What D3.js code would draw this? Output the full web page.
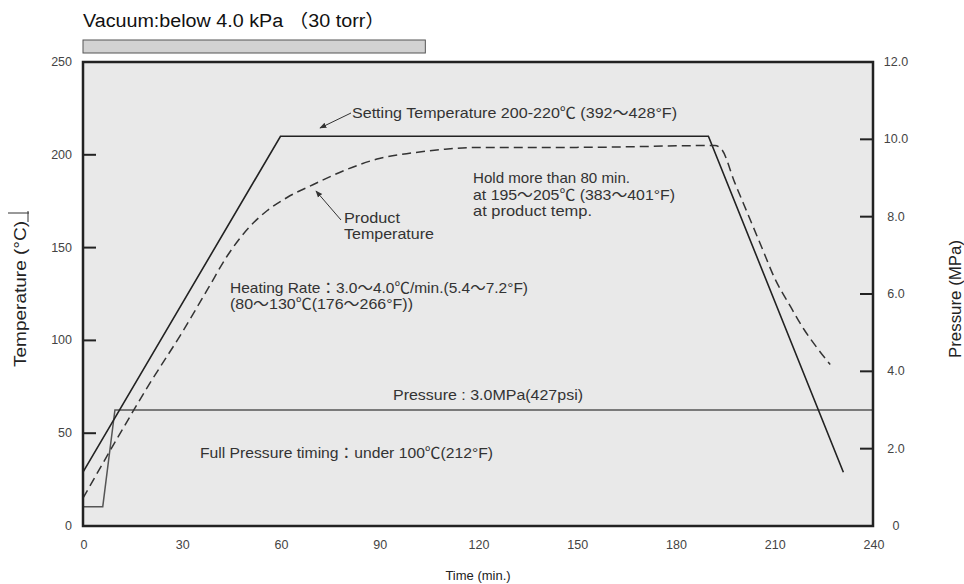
<!DOCTYPE html>
<html>
<head>
<meta charset="utf-8">
<script src="https://cdn.jsdelivr.net/npm/d3@7"></script>
<style>
  body { margin: 0; background: #fff; }
  text { font-family: "Liberation Sans", Arial, "Noto Sans CJK KR", sans-serif; }
</style>
</head>
<body>
<div id="chart"></div>
<script>
// curing cycle data (time in min)
const setTime = [0, 60, 190, 231];
const setTemp = [29, 210, 210, 29];

const productTime = [0, 10, 20, 30, 38, 44, 50, 56, 62, 70, 80, 90, 100, 110, 120, 150, 192, 194, 198, 202, 206, 210, 215, 219, 223, 227];
const productTemp = [15, 46, 76, 104, 128, 146, 160, 170, 177, 184, 192, 198, 201, 203, 204, 204, 205, 203, 185, 168, 151, 134, 118, 106, 96, 87];

const pressureTime = [0, 6, 9.7, 240];
const pressureValue = [0.5, 0.5, 3.0, 3.0];

const vacuumRange = [0, 104];

const timeTicks = [0, 30, 60, 90, 120, 150, 180, 210, 240];
const tempTicks = [0, 50, 100, 150, 200, 250];
const pressureTicks = [0, 2, 4, 6, 8, 10, 12];
const pressureTickLabels = ['0', '2.0', '4.0', '6.0', '8.0', '10.0', '12.0'];

const width = 964, height = 584;
const plotL = 83, plotR = 873, plotT = 62, plotB = 526;

const svg = d3.select('#chart').append('svg')
    .attr('width', width)
    .attr('height', height);

const x = d3.scaleLinear().domain([0, 240]).range([plotL, plotR]);
const yT = d3.scaleLinear().domain([0, 250]).range([plotB, plotT]);
const yP = d3.scaleLinear().domain([0, 12]).range([plotB, plotT]);

// vacuum bar
svg.append('text')
    .attr('x', plotL)
    .attr('y', 27)
    .attr('font-size', 18)
    .attr('fill', '#111')
    .attr('textLength', 302)
    .attr('lengthAdjust', 'spacingAndGlyphs')
    .text('Vacuum:below 4.0 kPa （30 torr）');

svg.append('rect')
    .attr('x', x(vacuumRange[0]))
    .attr('y', 40)
    .attr('width', x(vacuumRange[1]) - x(vacuumRange[0]))
    .attr('height', 13)
    .attr('fill', '#d2d2d2')
    .attr('stroke', '#555')
    .attr('stroke-width', 1);

// plot background
svg.append('rect')
    .attr('x', plotL).attr('y', plotT)
    .attr('width', plotR - plotL).attr('height', plotB - plotT)
    .attr('fill', '#e9e9e9');

// inner ticks
svg.append('g')
    .selectAll('line')
    .data(tempTicks.slice(1, -1))
    .enter().append('line')
    .attr('x1', plotL).attr('x2', plotL + 13)
    .attr('y1', d => yT(d)).attr('y2', d => yT(d))
    .attr('stroke', '#222').attr('stroke-width', 2);

svg.append('g')
    .selectAll('line')
    .data(pressureTicks.slice(1, -1))
    .enter().append('line')
    .attr('x1', plotR - 13).attr('x2', plotR)
    .attr('y1', d => yP(d)).attr('y2', d => yP(d))
    .attr('stroke', '#222').attr('stroke-width', 2);

// tick labels
svg.append('g')
    .selectAll('text')
    .data(tempTicks)
    .enter().append('text')
    .attr('x', 72)
    .attr('y', d => yT(d) + 4)
    .attr('text-anchor', 'end')
    .attr('font-size', 12.5)
    .attr('fill', '#444')
    .text(d => d);

svg.append('g')
    .selectAll('text')
    .data(pressureTicks)
    .enter().append('text')
    .attr('x', 896)
    .attr('y', d => yP(d) + 4)
    .attr('text-anchor', 'middle')
    .attr('font-size', 12.5)
    .attr('fill', '#444')
    .text((d, i) => pressureTickLabels[i]);

svg.append('g')
    .selectAll('text')
    .data(timeTicks)
    .enter().append('text')
    .attr('x', d => x(d) + 1)
    .attr('y', 549)
    .attr('text-anchor', 'middle')
    .attr('font-size', 12.5)
    .attr('fill', '#444')
    .text(d => d);

// axis titles
svg.append('text')
    .attr('transform', 'translate(26,294) rotate(-90)')
    .attr('text-anchor', 'middle')
    .attr('font-size', 17)
    .attr('fill', '#222')
    .attr('textLength', 146)
    .attr('lengthAdjust', 'spacingAndGlyphs')
    .text('Temperature (°C)');
svg.append('line')
    .attr('x1', 8).attr('x2', 29)
    .attr('y1', 213).attr('y2', 213)
    .attr('stroke', '#333').attr('stroke-width', 1);
svg.append('line')
    .attr('x1', 28).attr('x2', 28)
    .attr('y1', 211).attr('y2', 222)
    .attr('stroke', '#333').attr('stroke-width', 1);

svg.append('text')
    .attr('transform', 'translate(961,299) rotate(-90)')
    .attr('text-anchor', 'middle')
    .attr('font-size', 16)
    .attr('fill', '#222')
    .attr('textLength', 118)
    .attr('lengthAdjust', 'spacingAndGlyphs')
    .text('Pressure (MPa)');

svg.append('text')
    .attr('x', 478).attr('y', 580)
    .attr('text-anchor', 'middle')
    .attr('font-size', 13)
    .attr('fill', '#222')
    .text('Time (min.)');

// lines
const pressureLine = d3.line()
    .x((d, i) => x(pressureTime[i]))
    .y(d => yP(d));
svg.append('path')
    .datum(pressureValue)
    .attr('d', pressureLine)
    .attr('fill', 'none')
    .attr('stroke', '#555')
    .attr('stroke-width', 1.5);

const setLine = d3.line()
    .x((d, i) => x(setTime[i]))
    .y(d => yT(d));
svg.append('path')
    .datum(setTemp)
    .attr('d', setLine)
    .attr('fill', 'none')
    .attr('stroke', '#222')
    .attr('stroke-width', 1.6);

const productLine = d3.line()
    .x((d, i) => x(productTime[i]))
    .y(d => yT(d))
    .curve(d3.curveMonotoneX);
svg.append('path')
    .datum(productTemp)
    .attr('d', productLine)
    .attr('fill', 'none')
    .attr('stroke', '#333')
    .attr('stroke-width', 1.5)
    .attr('stroke-dasharray', '9,5');

// frame
svg.append('rect')
    .attr('x', plotL).attr('y', plotT)
    .attr('width', plotR - plotL).attr('height', plotB - plotT)
    .attr('fill', 'none')
    .attr('stroke', '#222')
    .attr('stroke-width', 2.5);

// annotations
svg.append('defs').append('marker')
    .attr('id', 'arrow')
    .attr('viewBox', '0 0 10 10')
    .attr('refX', 9).attr('refY', 5)
    .attr('markerWidth', 7).attr('markerHeight', 7)
    .attr('orient', 'auto')
    .append('path')
    .attr('d', 'M0,1 L10,5 L0,9 Z')
    .attr('fill', '#333');

svg.append('line')
    .attr('x1', 351).attr('y1', 113)
    .attr('x2', 320).attr('y2', 128)
    .attr('stroke', '#333').attr('stroke-width', 1)
    .attr('marker-end', 'url(#arrow)');

svg.append('line')
    .attr('x1', 341).attr('y1', 220)
    .attr('x2', 316).attr('y2', 191)
    .attr('stroke', '#333').attr('stroke-width', 1)
    .attr('marker-end', 'url(#arrow)');

const notes = [
    { x: 352, y: 118, w: 325, t: 'Setting Temperature 200-220℃ (392～428°F)' },
    { x: 473, y: 183, w: 157, t: 'Hold more than 80 min.' },
    { x: 473, y: 200, w: 202, t: 'at 195～205℃ (383～401°F)' },
    { x: 473, y: 216, w: 119, t: 'at product temp.' },
    { x: 344, y: 223, w: 56, t: 'Product' },
    { x: 344, y: 239, w: 90, t: 'Temperature' },
    { x: 230, y: 293, w: 298, t: 'Heating Rate：3.0～4.0℃/min.(5.4～7.2°F)' },
    { x: 230, y: 309, w: 183, t: '(80～130℃(176～266°F))' },
    { x: 393, y: 400, w: 190, t: 'Pressure : 3.0MPa(427psi)' },
    { x: 200, y: 458, w: 293, t: 'Full Pressure timing：under 100℃(212°F)' }
];

svg.append('g')
    .selectAll('text')
    .data(notes)
    .enter().append('text')
    .attr('x', d => d.x)
    .attr('y', d => d.y)
    .attr('font-size', 14.5)
    .attr('fill', '#333')
    .attr('textLength', d => d.w)
    .attr('lengthAdjust', 'spacingAndGlyphs')
    .text(d => d.t);
</script>
</body>
</html>
